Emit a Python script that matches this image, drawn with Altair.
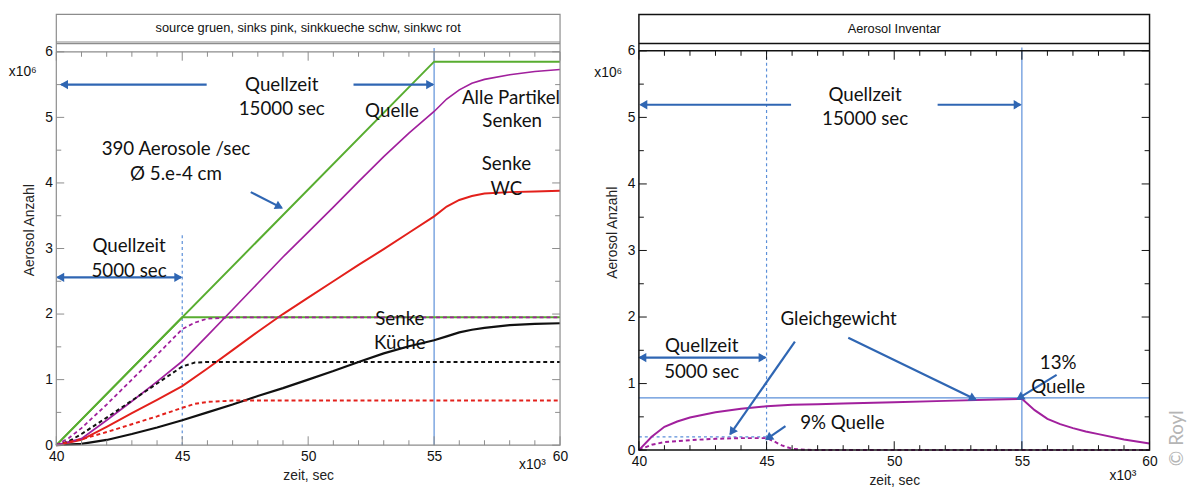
import math
import altair as alt
import pandas as pd

# ---------------- colours / fonts ----------------
BLUE = "#2f66b3"
LBLUE = "#5b8fd9"
GREEN = "#58ad30"
PURPLE = "#a1209d"
RED = "#e3201b"
BLACK = "#111111"
AXFONT = "Liberation Sans"
ANFONT = "Lato"

# ---------------- axes ----------------
X_DOMAIN = [40, 60]
X_LABELS = [40, 45, 50, 55, 60]
Y_LABELS = [0, 1, 2, 3, 4, 5, 6]
X_TICKS_MINOR = [41, 42, 43, 44, 46, 47, 48, 49, 51, 52, 53, 54, 56, 57, 58, 59]
X_TICKS_MAJOR = [40, 45, 50, 55, 60]
Y_TICKS_MINOR = [0.5, 1.5, 2.5, 3.5, 4.5, 5.5]
Y_TICKS_MAJOR = [0, 1, 2, 3, 4, 5, 6]

# ---------------- left chart data (zeit in 1e3 s, Anzahl in 1e6) ----------------
src_long_x = [40, 55, 60]
src_long_y = [0, 5.85, 5.85]
src_short_x = [40, 45, 60]
src_short_y = [0, 1.95, 1.95]

long_x = [40, 41, 42, 43, 44, 45, 46, 47, 48, 49, 50, 51, 52, 53, 54, 55, 55.5, 56, 56.5, 57, 58, 59, 60]
sinks_long = [0, 0.1, 0.38, 0.67, 0.97, 1.28, 1.67, 2.07, 2.47, 2.87, 3.25, 3.63, 4.02, 4.4, 4.76, 5.09,
              5.28, 5.42, 5.52, 5.58, 5.65, 5.70, 5.73]
wc_long = [0, 0.08, 0.28, 0.49, 0.69, 0.9, 1.17, 1.45, 1.73, 2.0, 2.25, 2.5, 2.75, 2.99, 3.24, 3.49,
           3.64, 3.74, 3.8, 3.84, 3.86, 3.87, 3.88]
kueche_long = [0, 0.02, 0.08, 0.17, 0.27, 0.38, 0.5, 0.62, 0.75, 0.87, 1.0, 1.13, 1.27, 1.4, 1.51, 1.6,
               1.66, 1.72, 1.76, 1.79, 1.83, 1.85, 1.86]

short_x = [40, 40.5, 41, 42, 43, 44, 45, 45.5, 46, 47, 60]
sinks_short = [0, 0.11, 0.26, 0.62, 1.0, 1.38, 1.77, 1.87, 1.93, 1.95, 1.95]
kueche_short = [0, 0.06, 0.17, 0.42, 0.68, 0.94, 1.2, 1.26, 1.27, 1.27, 1.27]
wc_short = [0, 0.05, 0.09, 0.2, 0.32, 0.44, 0.57, 0.63, 0.66, 0.68, 0.68]

# ---------------- right chart data ----------------
inv_long_x = [40, 40.5, 41, 41.5, 42, 43, 44, 45, 46, 47, 48, 50, 52, 54, 55, 55.5, 56, 56.5, 57, 57.5, 58, 59, 60]
inv_long_y = [0, 0.2, 0.35, 0.43, 0.49, 0.57, 0.62, 0.66, 0.68, 0.69, 0.70, 0.72, 0.74, 0.76, 0.77,
              0.6, 0.47, 0.39, 0.33, 0.28, 0.24, 0.16, 0.1]
inv_short_x = [40, 40.5, 41, 42, 43, 44, 45, 45.3, 45.6, 46, 46.5, 47, 60]
inv_short_y = [0, 0.08, 0.12, 0.15, 0.17, 0.18, 0.18, 0.13, 0.07, 0.02, 0.005, 0, 0]

# ---------------- annotations ----------------
L_TEXT = ["Quellzeit", "15000 sec", "Quelle", "Alle Partikel", "Senken", "390 Aerosole /sec",
          "Ø 5.e-4 cm", "Senke", "WC", "Quellzeit", "5000 sec", "Senke", "Küche"]
L_TEXT_X = [48.95, 48.95, 53.33, 58.05, 58.1, 44.75, 44.75, 57.87, 57.87, 42.89, 42.89, 53.64, 53.64]
L_TEXT_Y = [5.5, 5.13, 5.1, 5.29, 4.94, 4.52, 4.14, 4.29, 3.91, 3.04, 2.66, 1.93, 1.56]

R_TEXT = ["Quellzeit", "15000 sec", "Gleichgewicht", "Quellzeit", "5000 sec", "13%", "Quelle", "9% Quelle"]
R_TEXT_X = [48.86, 48.86, 47.82, 42.46, 42.46, 56.42, 56.42, 47.97]
R_TEXT_Y = [5.34, 4.97, 1.97, 1.56, 1.18, 1.31, 0.94, 0.41]

# arrows: start -> end (head at end); "both" gives a head at start too
L_ARR_X1 = [45.97, 51.8, 47.72, 40.05]
L_ARR_Y1 = [5.5, 5.5, 3.86, 2.56]
L_ARR_X2 = [40.2, 54.95, 48.95, 44.95]
L_ARR_Y2 = [5.5, 5.5, 3.62, 2.56]
L_ARR_BOTH = [False, False, False, True]

R_ARR_X1 = [45.96, 51.7, 46.11, 48.2, 40.03, 56.36, 45.74]
R_ARR_Y1 = [5.19, 5.19, 1.63, 1.69, 1.39, 1.13, 0.36]
R_ARR_X2 = [40.07, 54.94, 43.58, 53.19, 44.95, 54.83, 44.99]
R_ARR_Y2 = [5.19, 5.19, 0.24, 0.76, 1.39, 0.77, 0.16]
R_ARR_BOTH = [False, False, False, False, True, False, False]

# reference lines (blue): x1, y1, x2, y2
L_REF_SOLID = ([55], [0], [55], [6.06])
L_REF_DASH = ([45], [0], [45], [3.24])
R_REF_SOLID = ([55, 40], [0, 0.785], [55, 60], [6.05, 0.785])
R_REF_DASH = ([45, 40], [0, 0.2], [45, 45], [6.0, 0.2])


def build_panel(W, H, ytop, frame, fw, title, title_y, box_lines, series, ref_solid, ref_dash,
                tx, ttx, tty, ax1, ay1, ax2, ay2, both, sup6, sup3, extra=None):
    xs = alt.Scale(domain=X_DOMAIN, nice=False, zero=False)
    ys = alt.Scale(domain=[0, ytop], nice=False, zero=False)
    xax = alt.Axis(values=X_LABELS, ticks=False, domain=False, grid=False, labelPadding=5,
                   titlePadding=5, title="zeit, sec", format="d", labelFlush=False)
    yax = alt.Axis(values=Y_LABELS, ticks=False, domain=False, grid=False, labelPadding=4,
                   titlePadding=8, title="Aerosol Anzahl", format="d", labelFlush=False)

    def X(f):
        return alt.X(f, type="quantitative", scale=xs, axis=xax)

    def Y(f):
        return alt.Y(f, type="quantitative", scale=ys, axis=yax)

    px_x = W / (X_DOMAIN[1] - X_DOMAIN[0])
    px_y = H / ytop
    layers = []

    # blue reference lines
    for (rx1, ry1, rx2, ry2), dash in ((ref_solid, None), (ref_dash, [3, 3])):
        d = pd.DataFrame({"x": rx1, "y": ry1, "x2": rx2, "y2": ry2})
        kw = dict(color=LBLUE, strokeWidth=1.2)
        if dash:
            kw["strokeDash"] = dash
        layers.append(alt.Chart(d).mark_rule(**kw).encode(x=X("x"), y=Y("y"),
                                                          x2="x2", y2="y2"))

    # data series
    for xs_, ys_, color, dash, sw in series:
        d = pd.DataFrame({"t": xs_, "n": ys_})
        kw = dict(color=color, strokeWidth=sw)
        if dash:
            kw["strokeDash"] = dash
        layers.append(alt.Chart(d).mark_line(**kw).encode(x=X("t"), y=Y("n")))

    # horizontal lines of the frame (title box bottom and the 6 line)
    d = pd.DataFrame({"y": box_lines})
    layers.append(alt.Chart(d).mark_rule(color=frame, strokeWidth=fw).encode(
        y=Y("y"), x=alt.value(0), x2=alt.value(W)))

    # inward ticks
    for vals, ln in ((X_TICKS_MINOR, 5), (X_TICKS_MAJOR, 9)):
        d = pd.DataFrame({"t": vals, "six": [6] * len(vals)})
        layers.append(alt.Chart(d).mark_rule(color=frame, strokeWidth=1).encode(
            x=X("t"), y=alt.value(H), y2=alt.value(H - ln)))
        layers.append(alt.Chart(d).mark_rule(color=frame, strokeWidth=1, y2Offset=ln).encode(
            x=X("t"), y=Y("six"), y2=alt.Y2("six")))
    for vals, ln in ((Y_TICKS_MINOR, 5), (Y_TICKS_MAJOR, 8)):
        d = pd.DataFrame({"v": vals})
        layers.append(alt.Chart(d).mark_rule(color=frame, strokeWidth=1).encode(
            y=Y("v"), x=alt.value(0), x2=alt.value(ln)))
        layers.append(alt.Chart(d).mark_rule(color=frame, strokeWidth=1).encode(
            y=Y("v"), x=alt.value(W), x2=alt.value(W - ln)))

    # arrows
    d = pd.DataFrame({"x": ax1, "y": ay1, "x2": ax2, "y2": ay2})
    layers.append(alt.Chart(d).mark_rule(color=BLUE, strokeWidth=2.2).encode(
        x=X("x"), y=Y("y"), x2="x2", y2="y2"))
    hx, hy, ha = [], [], []
    for x1, y1, x2, y2, b in zip(ax1, ay1, ax2, ay2, both):
        ends = [(x1, y1, x2, y2)]
        if b:
            ends.append((x2, y2, x1, y1))
        for sx, sy, ex, ey in ends:
            dx = (ex - sx) * px_x
            dy = -(ey - sy) * px_y
            ln = math.hypot(dx, dy)
            ang = math.degrees(math.atan2(dx, -dy)) % 360
            back = 4.0
            hx.append(ex - dx / ln * back / px_x)
            hy.append(ey + dy / ln * back / px_y)
            ha.append(ang)
    d = pd.DataFrame({"x": hx, "y": hy, "a": ha})
    layers.append(alt.Chart(d).mark_point(shape="triangle", filled=True, size=90, opacity=1,
                                          color=BLUE).encode(
        x=X("x"), y=Y("y"), angle=alt.Angle("a:Q", scale=None)))

    # annotation texts
    d = pd.DataFrame({"x": ttx, "y": tty, "s": tx})
    layers.append(alt.Chart(d).mark_text(font=ANFONT, fontSize=19, color="#111",
                                         baseline="middle", align="center").encode(
        x=X("x"), y=Y("y"), text="s:N"))

    # title inside the box
    d = pd.DataFrame({"s": [title]})
    layers.append(alt.Chart(d).mark_text(font=AXFONT, fontSize=13, color="#111",
                                         baseline="middle", align="center").encode(
        x=alt.value(W / 2), y=alt.value(title_y), text="s:N"))

    # exponent labels
    d = pd.DataFrame({"s": ["x10⁶", "x10³"], "px": [sup6[0], sup3[0]], "py": [sup6[1], sup3[1]]})
    for i in range(2):
        dd = d.iloc[[i]]
        layers.append(alt.Chart(dd).mark_text(font=AXFONT, fontSize=14, color="#111",
                                              baseline="middle", align="center").encode(
            x=alt.value(dd["px"].iloc[0]), y=alt.value(dd["py"].iloc[0]), text="s:N"))

    if extra is not None:
        layers.extend(extra)

    # frame
    d = pd.DataFrame({"k": [1]})
    layers.append(alt.Chart(d).mark_rect(fillOpacity=0, stroke=frame, strokeWidth=fw).encode(
        x=alt.value(0), x2=alt.value(W), y=alt.value(0), y2=alt.value(H)))

    return alt.layer(*layers).properties(width=W, height=H)


left_series = [
    (src_long_x, src_long_y, GREEN, None, 2.0),
    (src_short_x, src_short_y, GREEN, None, 2.0),
    (long_x, kueche_long, BLACK, None, 2.2),
    (long_x, wc_long, RED, None, 2.0),
    (long_x, sinks_long, PURPLE, None, 1.7),
    (short_x, kueche_short, BLACK, [4, 3], 2.0),
    (short_x, wc_short, RED, [4, 3], 2.0),
    (short_x, sinks_short, PURPLE, [4, 3], 1.8),
]
right_series = [
    (inv_long_x, inv_long_y, PURPLE, None, 2.0),
    (inv_short_x, inv_short_y, PURPLE, [4, 3], 2.0),
]

WL, HL, TOPL = 511, 437, 6.571
WR, HR, TOPR = 518, 442, 6.548

left = build_panel(WL, HL, TOPL, "#8c8c8c", 1.2, "source gruen, sinks pink, sinkkueche schw, sinkwc rot", 14,
                   [6.15, 6.125, 6.0], left_series, L_REF_SOLID, L_REF_DASH,
                   L_TEXT, L_TEXT_X, L_TEXT_Y, L_ARR_X1, L_ARR_Y1, L_ARR_X2, L_ARR_Y2, L_ARR_BOTH,
                   (-34, 58), (483, 457))

wm = alt.Chart(pd.DataFrame({"s": ["© Royl"]})).mark_text(
    font=ANFONT, fontSize=19, color="#b5b5b5", angle=270, baseline="middle", align="center"
).encode(x=alt.value(WR + 28), y=alt.value(HR - 12), text="s:N")

right = build_panel(WR, HR, TOPR, "#111111", 1.5, "Aerosol Inventar", 15,
                    [6.11, 6.0], right_series, R_REF_SOLID, R_REF_DASH,
                    R_TEXT, R_TEXT_X, R_TEXT_Y, R_ARR_X1, R_ARR_Y1, R_ARR_X2, R_ARR_Y2, R_ARR_BOTH,
                    (-31, 60), (491, 468), extra=[wm])

chart = alt.hconcat(left, right, spacing=26).properties(
    padding={"left": 0, "top": 2, "right": 0, "bottom": 0}
).configure_view(stroke=None).configure_axis(
    labelFont=AXFONT, titleFont=AXFONT, labelFontSize=14, titleFontSize=14,
    labelColor="#111", titleColor="#222", titleFontWeight="normal"
)

chart.save("out.html", embed_options={"renderer": "svg", "actions": False})
